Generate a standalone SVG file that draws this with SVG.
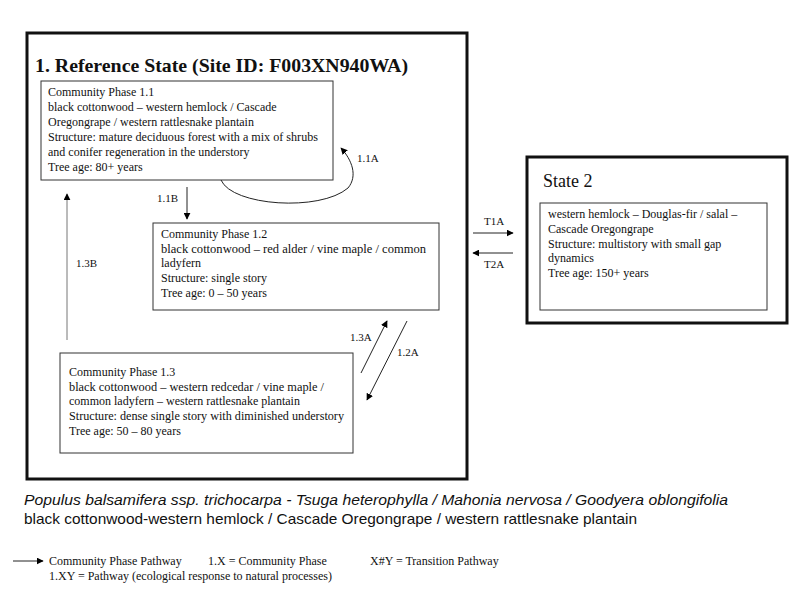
<svg xmlns="http://www.w3.org/2000/svg" width="800" height="600" viewBox="0 0 800 600">
<defs>
<marker id="ah" viewBox="0 0 10 10" refX="9" refY="5" markerWidth="7" markerHeight="7" markerUnits="userSpaceOnUse" orient="auto">
<path d="M0,0 L10,5 L0,10 z" fill="#000"/>
</marker>
</defs>
<style>
.state{fill:#fff;stroke:#111;stroke-width:3}
.box{fill:#fff;stroke:#333;stroke-width:1}
.t{font-family:"Liberation Serif","Times New Roman",serif;font-size:12px;fill:#111}
.lbl{font-family:"Liberation Serif","Times New Roman",serif;font-size:11px;fill:#111}
.ln{fill:none;stroke:#222;stroke-width:1;marker-end:url(#ah)}
.sans{font-family:"Liberation Sans",Arial,sans-serif;font-size:15px;fill:#111}
</style>
<rect width="800" height="600" fill="#fff"/>

<g id="state1">
<rect class="state" x="27" y="33" width="440" height="446"/>
<text x="35" y="72" font-family="'Liberation Serif','Times New Roman',serif" font-weight="bold" font-size="19" textLength="373" lengthAdjust="spacingAndGlyphs" fill="#111">1. Reference State (Site ID: F003XN940WA)</text>
</g>

<g id="phase11">
<rect class="box" x="41" y="81" width="292" height="99"/>
<text class="t" x="48" y="96">Community Phase 1.1</text>
<text class="t" x="48" y="111">black cottonwood – western hemlock / Cascade</text>
<text class="t" x="48" y="126">Oregongrape /  western rattlesnake plantain</text>
<text class="t" x="48" y="141" textLength="270" lengthAdjust="spacingAndGlyphs">Structure: mature deciduous forest with a mix of shrubs</text>
<text class="t" x="48" y="156">and conifer regeneration in the understory</text>
<text class="t" x="48" y="171">Tree age: 80+ years</text>
</g>

<g id="phase12">
<rect class="box" x="153" y="223" width="286" height="87"/>
<text class="t" x="161" y="238">Community Phase 1.2</text>
<text class="t" x="161" y="253" textLength="265" lengthAdjust="spacingAndGlyphs">black cottonwood – red alder / vine maple / common</text>
<text class="t" x="161" y="267">ladyfern</text>
<text class="t" x="161" y="282">Structure: single story</text>
<text class="t" x="161" y="297">Tree age: 0 – 50 years</text>
</g>

<g id="phase13">
<rect class="box" x="60" y="353" width="293" height="100"/>
<text class="t" x="69" y="376">Community Phase 1.3</text>
<text class="t" x="69" y="391" textLength="255" lengthAdjust="spacingAndGlyphs">black cottonwood – western redcedar / vine maple /</text>
<text class="t" x="69" y="405">common ladyfern – western rattlesnake plantain</text>
<text class="t" x="69" y="420" textLength="275" lengthAdjust="spacingAndGlyphs">Structure: dense single story with diminished understory</text>
<text class="t" x="69" y="435">Tree age: 50 – 80 years</text>
</g>

<g id="state2">
<rect class="state" x="527" y="157" width="260" height="166"/>
<text x="543" y="187" font-family="'Liberation Serif','Times New Roman',serif" font-size="18" fill="#111">State 2</text>
<rect class="box" x="540" y="203" width="227" height="107"/>
<text class="t" x="548" y="218">western hemlock – Douglas-fir / salal –</text>
<text class="t" x="548" y="233">Cascade Oregongrape</text>
<text class="t" x="548" y="248">Structure: multistory with small gap</text>
<text class="t" x="548" y="262">dynamics</text>
<text class="t" x="548" y="277">Tree age: 150+ years</text>
</g>

<g id="connectors">
<path class="ln" d="M221,180 C232,206 320,212 348,188 C358,176 352,160 341,148"/>
<text class="lbl" x="357" y="162">1.1A</text>
<line class="ln" x1="187" y1="187" x2="187" y2="219"/>
<text class="lbl" x="157" y="202">1.1B</text>
<line class="ln" x1="67" y1="340" x2="67" y2="194" style="stroke:#777"/>
<text class="lbl" x="76" y="267">1.3B</text>
<line class="ln" x1="361" y1="373" x2="387" y2="321"/>
<text class="lbl" x="350" y="341">1.3A</text>
<line class="ln" x1="407" y1="321" x2="367" y2="400"/>
<text class="lbl" x="397" y="356">1.2A</text>
<line class="ln" x1="473" y1="233" x2="513" y2="233"/>
<text class="lbl" x="484" y="225">T1A</text>
<line class="ln" x1="513" y1="253" x2="473" y2="253"/>
<text class="lbl" x="484" y="268">T2A</text>
</g>

<g id="caption">
<text class="sans" x="24" y="505" font-style="italic" textLength="704" lengthAdjust="spacingAndGlyphs">Populus balsamifera ssp. trichocarpa - Tsuga heterophylla / Mahonia nervosa / Goodyera oblongifolia</text>
<text class="sans" x="24" y="524" textLength="613" lengthAdjust="spacingAndGlyphs">black cottonwood-western hemlock / Cascade Oregongrape / western rattlesnake plantain</text>
</g>

<g id="legend">
<line class="ln" x1="13" y1="561" x2="43" y2="561"/>
<text class="t" x="49" y="565">Community Phase Pathway</text>
<text class="t" x="208" y="565">1.X = Community Phase</text>
<text class="t" x="370" y="565">X#Y = Transition Pathway</text>
<text class="t" x="49" y="580">1.XY = Pathway (ecological response to natural processes)</text>
</g>
</svg>
